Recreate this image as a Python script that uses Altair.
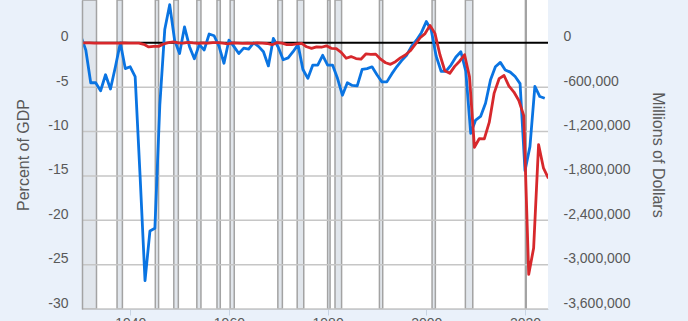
import altair as alt
import pandas as pd

# ---------------- data ----------------
years = list(range(1929, 2025))

# Federal surplus or deficit, percent of GDP (left axis, blue)
pct_gdp = [
    0.7, 0.75, -0.8, -4.5, -4.5, -5.4, -3.6, -5.2, -2.7, 0.0,          # 1929-1938
    -2.9, -2.7, -3.8, -15.0, -26.8, -21.2, -20.9, -7.0, 1.5, 4.3,      # 1939-1948
    0.3, -1.2, 1.8, -0.4, -1.8, -0.2, -0.8, 1.0, 0.8, -0.4,            # 1949-1958
    -2.3, 0.3, -0.4, -1.2, -0.6, -0.7, 0.0, -0.4, -1.0, -2.6,          # 1959-1968
    0.5, -0.5, -1.9, -1.7, -1.0, -0.2, -3.0, -4.0, -2.5, -2.5,         # 1969-1978
    -1.4, -2.5, -2.5, -4.0, -5.9, -4.5, -4.8, -4.85, -3.0, -2.9,       # 1979-1988
    -2.7, -3.6, -4.4, -4.4, -3.5, -2.7, -2.0, -1.4, -0.4, 0.3,         # 1989-1998
    1.15, 2.4, 1.45, -1.5, -3.2, -3.2, -2.5, -1.6, -1.0, -3.2,         # 1999-2008
    -10.2, -8.7, -8.3, -6.8, -4.2, -2.7, -2.2, -3.05, -3.3, -3.8,      # 2009-2018
    -4.6, -14.4, -11.7, -4.9, -6.05, -6.25,                            # 2019-2024
]

# Federal surplus or deficit, millions of dollars (right axis, red)
deficit_musd = [
    734, 738, -462, -2735, -2602, -3630, -2791, -4425, -2777, -1177,
    -3862, -2920, -4941, -20503, -54554, -47557, -47553, -15936, 4018, 11796,
    580, -3119, 6102, -1519, -6493, -1154, -2993, 3947, 3412, -2769,
    -12849, 301, -3335, -7146, -4756, -5915, -1411, -3698, -8643, -25161,
    3242, -2842, -23033, -23373, -14908, -6135, -53242, -73732, -53659, -59185,
    -40726, -73830, -78968, -127977, -207802, -185367, -212308, -221227, -149730, -155178,
    -152639, -221036, -269238, -290321, -255051, -203186, -163952, -107431, -21884, 69270,
    125610, 236241, 128236, -157758, -377585, -412727, -318346, -248181, -160701, -458553,
    -1412688, -1294373, -1299593, -1076573, -679775, -484602, -441960, -584651, -665446, -779137,
    -983592, -3131917, -2775297, -1375905, -1695000, -1832000,
]
# the dollar series is dated at the end of the fiscal year (October)
fy_date_offset = 0.75

# NBER recessions (peak year, month) -> (trough year, month)
rec_start = [(1929, 8), (1937, 5), (1945, 2), (1948, 11), (1953, 7), (1957, 8),
             (1960, 4), (1969, 12), (1973, 11), (1980, 1), (1981, 7), (1990, 7),
             (2001, 3), (2007, 12), (2020, 2)]
rec_end = [(1933, 3), (1938, 6), (1945, 10), (1949, 10), (1954, 5), (1958, 4),
           (1961, 2), (1970, 11), (1975, 3), (1980, 7), (1982, 11), (1991, 3),
           (2001, 11), (2009, 6), (2020, 4)]

year_ticks = [1940, 1960, 1980, 2000, 2020]
pct_ticks = [-30, -25, -20, -15, -10, -5, 0]
usd_ticks = [-3600000, -3000000, -2400000, -1800000, -1200000, -600000, 0]
grid_vals = [-30, -25, -20, -15, -10, -5]

# ---------------- frames ----------------
df_pct = pd.DataFrame({"year": years, "pct": pct_gdp})
df_usd = pd.DataFrame({"year": years, "usd": deficit_musd})
df_rec = pd.DataFrame({
    "start": [y + (m - 1) / 12 for y, m in rec_start],
    "end": [y + (m - 1) / 12 for y, m in rec_end],
})
df_grid = pd.DataFrame({"v": grid_vals})
df_zero = pd.DataFrame({"v": [0]})

# ---------------- scales / styles ----------------
W, H = 466, 309
FONT = "Liberation Sans"
TXT = "#595959"
BLUE = "#0a74e2"
RED = "#d7282c"

xdom = [1930.23, 2024.66]
xscale = alt.Scale(domain=xdom, nice=False, zero=False)
ydom_left = [-30, 4.83]
yscale_left = alt.Scale(domain=ydom_left, nice=False, zero=False)
yscale_right = alt.Scale(domain=[-3600000, 579600], nice=False, zero=False)

neg_expr = "datum.value < 0 ? '-' + format(-datum.value, ',') : format(datum.value, ',')"

x_axis = alt.Axis(
    values=year_ticks, labelExpr="format(datum.value, 'd')", grid=False,
    domainColor="#c8d4e3", domainWidth=1, tickColor="#c8d4e3", tickSize=6,
    labelPadding=1, labelBaseline="top", labelFontSize=14, labelColor=TXT,
    labelFont=FONT, title=None,
)

left_axis = alt.Axis(
    values=pct_ticks, labelExpr=neg_expr, grid=False, ticks=False,
    domain=True, domainColor="#a3a3a3", domainWidth=1.5,
    labelPadding=14, labelOffset=-6, labelFontSize=14, labelColor=TXT,
    labelFont=FONT, title="Percent of GDP", titleFont=FONT,
    titleFontSize=16, titleFontWeight="normal", titleColor=TXT,
    titleX=-59, titleY=154.5, titleAngle=-90, titleAlign="center",
    titleBaseline="middle", zindex=1,
)

rec = alt.Chart(df_rec).mark_rect(
    fill="#e1e6ec", stroke="#a3a3a3", strokeWidth=1.5, clip=True
).encode(
    x=alt.X("start:Q", scale=xscale, axis=x_axis),
    x2="end:Q",
    y=alt.value(0),
    y2=alt.value(H),
)

grid = alt.Chart(df_grid).mark_rule(color="#c6c6c6", strokeWidth=1.5).encode(
    y=alt.Y("v:Q", scale=yscale_left, axis=left_axis, title="Percent of GDP"),
)

zero = alt.Chart(df_zero).mark_rule(color="#000000", strokeWidth=2).encode(
    y=alt.Y("v:Q", scale=yscale_left, axis=left_axis, title="Percent of GDP"),
)

blue = alt.Chart(df_pct).mark_line(
    color=BLUE, strokeWidth=2.8, clip=True, strokeJoin="round"
).encode(
    x=alt.X("year:Q", scale=xscale, axis=x_axis),
    y=alt.Y("pct:Q", scale=yscale_left, axis=left_axis, title="Percent of GDP"),
)

left = alt.layer(rec, grid, zero, blue)

red = alt.Chart(df_usd).transform_calculate(
    xpos=f"datum.year + {fy_date_offset}"
).mark_line(color=RED, strokeWidth=2.8, clip=True, strokeJoin="round").encode(
    x=alt.X("xpos:Q", scale=xscale, axis=x_axis),
    y=alt.Y("usd:Q", scale=yscale_right, axis=alt.Axis(
        orient="right", values=usd_ticks, labelExpr=neg_expr, grid=False,
        ticks=False, domain=False, labelPadding=15, labelOffset=-6,
        labelFontSize=14, labelColor=TXT, labelFont=FONT,
        title="Millions of Dollars", titleFont=FONT, titleFontSize=16,
        titleFontWeight="normal", titleColor=TXT, titleX=109, titleY=154.5,
        titleAngle=90, titleAlign="center", titleBaseline="middle",
    )),
)

chart = alt.layer(left, red).resolve_scale(y="independent").properties(
    width=W, height=H,
    autosize=alt.AutoSizeParams(type="none"),
    padding={"left": 82, "right": 140, "top": 0, "bottom": 12},
    background="#eaf1fa",
).configure_view(fill="#ffffff", stroke=None)

chart.save("out.html", embed_options={"renderer": "svg", "actions": False})
